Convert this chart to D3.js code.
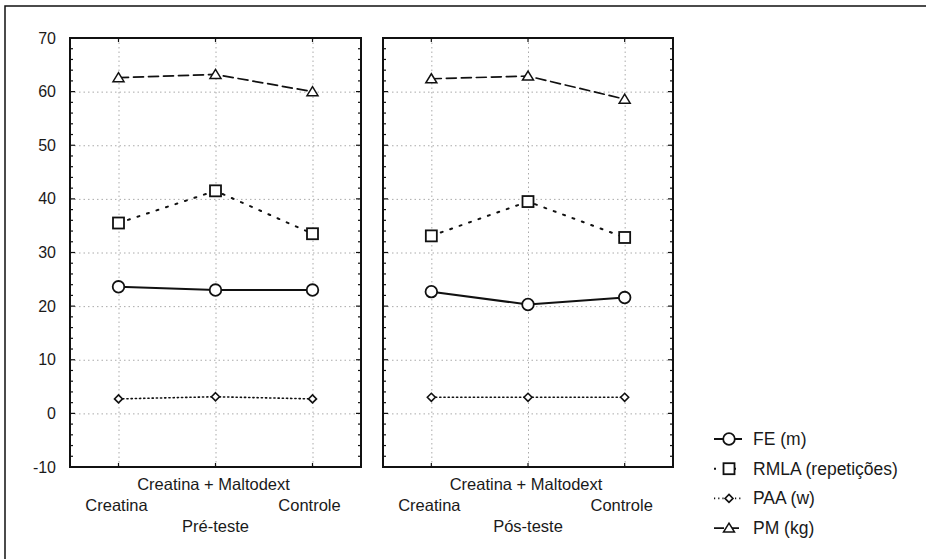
<!DOCTYPE html>
<html>
<head>
<meta charset="utf-8">
<script src="https://cdn.jsdelivr.net/npm/d3@7"></script>
<style>
  body { margin: 0; background: #fff; }
  svg text { font-family: "Liberation Sans", Arial, sans-serif; fill: #1a1a1a; }
</style>
</head>
<body>
<div id="chart"></div>
<script>
// data
const categories = ["Creatina", "Creatina + Maltodext", "Controle"];
const phases = ["Pré-teste", "Pós-teste"];
const yTicks = [-10, 0, 10, 20, 30, 40, 50, 60, 70];

const fePre = [23.6, 23.0, 23.0];
const fePos = [22.7, 20.3, 21.6];
const rmlaPre = [35.5, 41.5, 33.5];
const rmlaPos = [33.1, 39.5, 32.8];
const paaPre = [2.7, 3.1, 2.7];
const paaPos = [3.0, 3.0, 3.0];
const pmPre = [62.6, 63.2, 60.0];
const pmPos = [62.4, 62.9, 58.6];

const seriesNames = ["FE (m)", "RMLA (repetições)", "PAA (w)", "PM (kg)"];

const width = 926, height = 559;
const plotTop = 38, plotBottom = 467;
const panels = [
    { phase: phases[0], x0: 70, x1: 361, data: [fePre, rmlaPre, paaPre, pmPre] },
    { phase: phases[1], x0: 383, x1: 673, data: [fePos, rmlaPos, paaPos, pmPos] }
];

// line + marker style per series
const styles = [
    { dash: null, width: 2, marker: "circle" },
    { dash: "2,8", width: 2, marker: "square" },
    { dash: "1.2,3", width: 1.6, marker: "diamond" },
    { dash: "10,5", width: 1.7, marker: "triangle" }
];

const svg = d3.select("#chart").append("svg")
    .attr("width", width)
    .attr("height", height);

// outer frame (runs off the right/bottom edge like the scan)
svg.append("rect")
    .attr("x", 5).attr("y", 6)
    .attr("width", width + 10).attr("height", height + 10)
    .attr("fill", "none").attr("stroke", "#111").attr("stroke-width", 1.5);

const y = d3.scaleLinear().domain([-10, 70]).range([plotBottom, plotTop]);
const minorTicks = d3.range(-10, 71, 2);

function drawMarker(g, type, cx, cy) {
    const common = sel => sel.attr("fill", "#fff").attr("stroke", "#111").attr("stroke-width", 1.8);
    if (type === "circle") {
        g.append("circle").attr("cx", cx).attr("cy", cy).attr("r", 5.8).call(common);
    } else if (type === "square") {
        g.append("rect").attr("x", cx - 5.5).attr("y", cy - 5.5)
            .attr("width", 11).attr("height", 11).call(common);
    } else if (type === "diamond") {
        g.append("path").attr("d", `M${cx},${cy - 4}L${cx + 4},${cy}L${cx},${cy + 4}L${cx - 4},${cy}Z`)
            .call(common).attr("stroke-width", 1.6);
    } else {
        g.append("path").attr("d", `M${cx},${cy - 5}L${cx + 5.5},${cy + 4}L${cx - 5.5},${cy + 4}Z`)
            .call(common).attr("stroke-width", 1.5);
    }
}

panels.forEach((p, pi) => {
    const x = d3.scalePoint().domain(categories).range([p.x0, p.x1]).padding(0.5);
    const g = svg.append("g");

    // grid
    g.append("g").attr("transform", `translate(${p.x0},0)`)
        .call(d3.axisLeft(y).tickValues(yTicks).tickSize(-(p.x1 - p.x0)).tickFormat(""))
        .call(a => a.select(".domain").remove())
        .selectAll("line")
        .attr("stroke", "#aaa").attr("stroke-dasharray", "1.5,3");

    g.append("g").attr("transform", `translate(0,${plotBottom})`)
        .call(d3.axisBottom(x).tickSize(-(plotBottom - plotTop)).tickFormat(""))
        .call(a => a.select(".domain").remove())
        .selectAll("line")
        .attr("stroke", "#aaa").attr("stroke-dasharray", "1.5,3");

    // inward ticks on all four sides
    const tickG = g.append("g").attr("stroke", "#111").attr("stroke-width", 1.2);
    [p.x0, p.x1].forEach((ex, side) => {
        tickG.selectAll(null).data(minorTicks).join("line")
            .attr("x1", ex).attr("x2", d => ex + (side ? -1 : 1) * (d % 10 === 0 ? 5 : 3))
            .attr("y1", d => y(d)).attr("y2", d => y(d));
    });
    [plotTop, plotBottom].forEach((ey, side) => {
        tickG.selectAll(null).data(categories).join("line")
            .attr("x1", d => x(d)).attr("x2", d => x(d))
            .attr("y1", ey).attr("y2", ey + (side ? -4 : 4));
    });

    // frame
    g.append("rect")
        .attr("x", p.x0).attr("y", plotTop)
        .attr("width", p.x1 - p.x0).attr("height", plotBottom - plotTop)
        .attr("fill", "none").attr("stroke", "#111").attr("stroke-width", 2);

    // y labels only on first panel
    if (pi === 0) {
        g.append("g").selectAll("text").data(yTicks).join("text")
            .attr("x", 56).attr("y", d => y(d) + 5.5)
            .attr("text-anchor", "end")
            .attr("font-size", "16px")
            .text(d => d);
    }

    // series
    const line = d3.line().x((d, i) => x(categories[i])).y(d => y(d));
    p.data.forEach((vals, si) => {
        const st = styles[si];
        g.append("path")
            .attr("d", line(vals))
            .attr("fill", "none")
            .attr("stroke", "#111")
            .attr("stroke-width", st.width)
            .attr("stroke-dasharray", st.dash)
            .attr("stroke-linecap", st.dash ? "round" : "butt");
        vals.forEach((v, i) => drawMarker(g, st.marker, x(categories[i]), y(v)));
    });

    // category labels (staggered)
    const fs = "16.5px";
    g.append("text").attr("x", x(categories[1]) - 2).attr("y", 490)
        .attr("text-anchor", "middle").attr("font-size", fs).text(categories[1]);
    g.append("text").attr("x", x(categories[0]) - 2).attr("y", 511)
        .attr("text-anchor", "middle").attr("font-size", fs).text(categories[0]);
    g.append("text").attr("x", x(categories[2]) - 3).attr("y", 511)
        .attr("text-anchor", "middle").attr("font-size", fs).text(categories[2]);
    g.append("text").attr("x", x(categories[1])).attr("y", 532)
        .attr("text-anchor", "middle").attr("font-size", fs).text(p.phase);
});

// legend
const legend = svg.append("g").attr("transform", "translate(714,439)");
seriesNames.forEach((name, i) => {
    const st = styles[i];
    const row = legend.append("g").attr("transform", `translate(0,${i * 29.7})`);
    row.append("line")
        .attr("x1", 0).attr("x2", 28).attr("y1", 0).attr("y2", 0)
        .attr("stroke", "#111").attr("stroke-width", st.width)
        .attr("stroke-dasharray", st.dash);
    drawMarker(row, st.marker, 15, 0);
    row.append("text").attr("x", 39).attr("y", 6)
        .attr("font-size", "17.5px").text(name);
});
</script>
</body>
</html>
